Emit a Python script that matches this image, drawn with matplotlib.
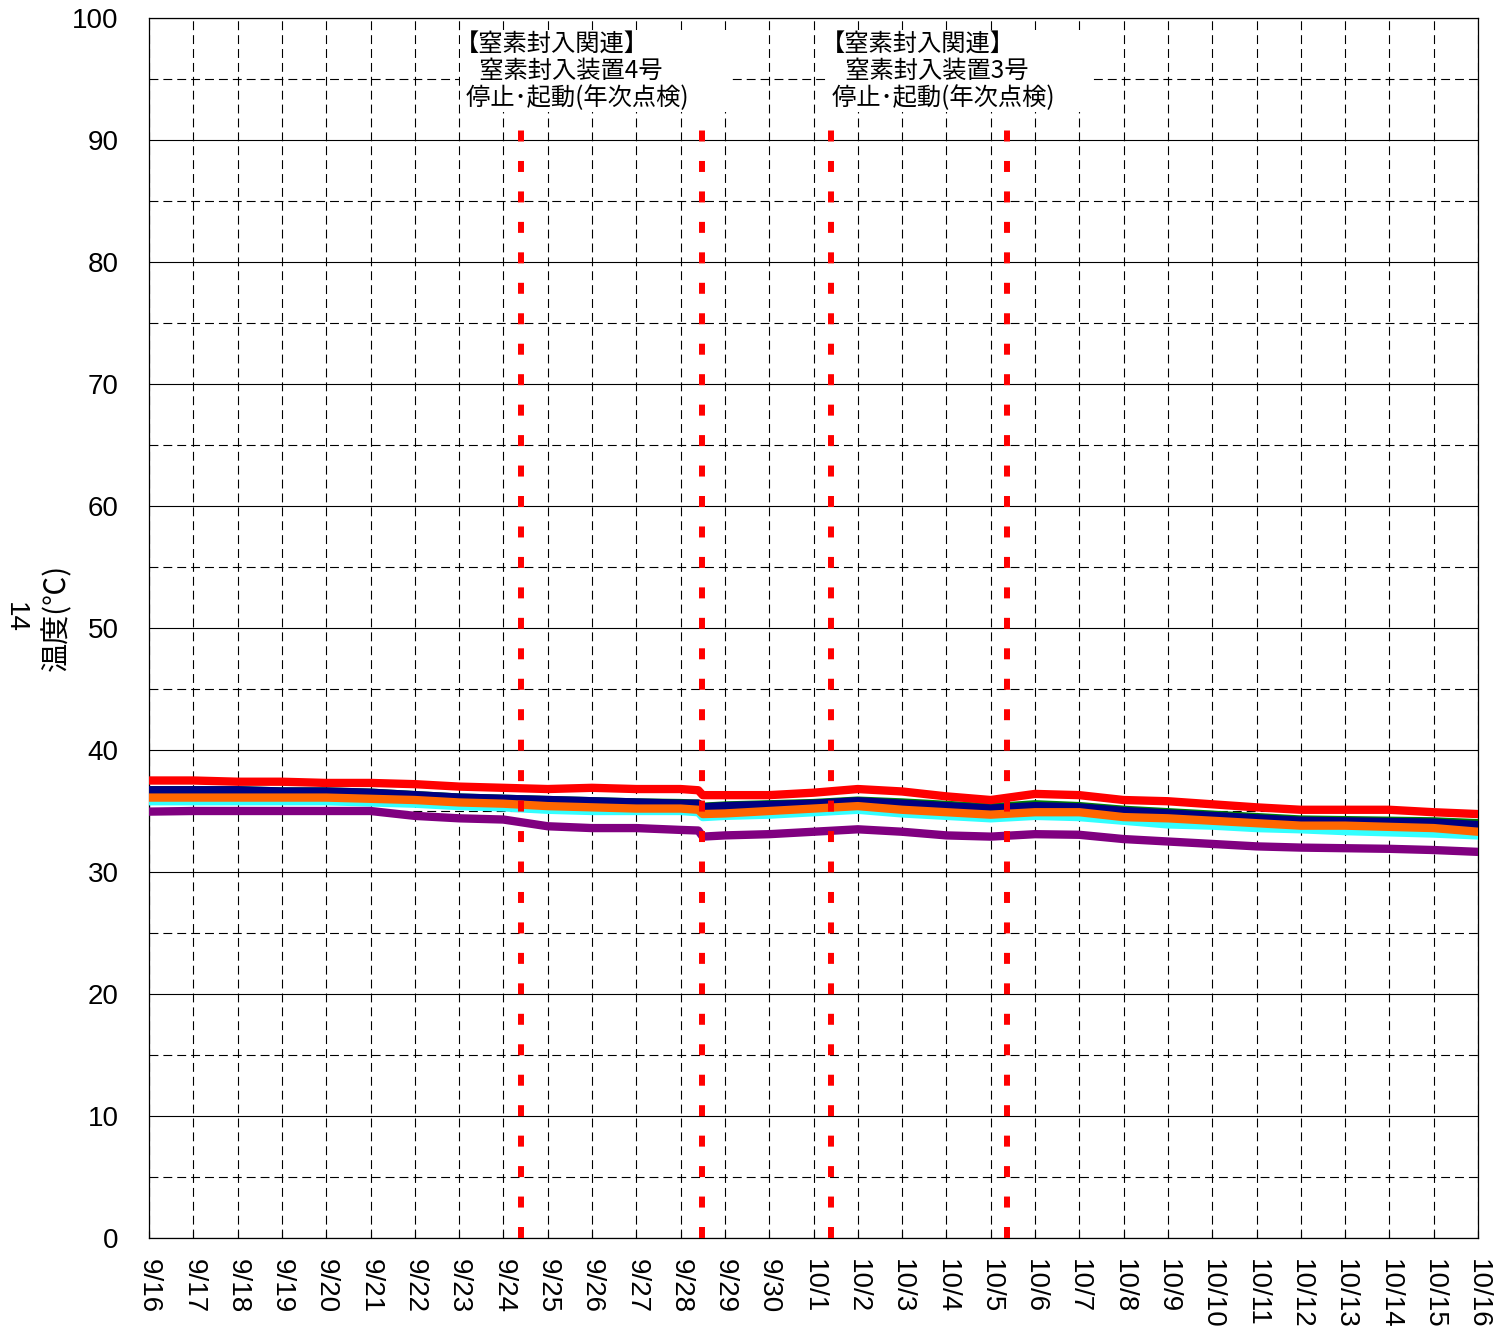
import matplotlib
matplotlib.use("Agg")
import matplotlib.pyplot as plt
import matplotlib.ticker as ticker
from matplotlib.patches import Rectangle

# days since 9/16 (extra points around the 9/28 step)
days = [0, 1, 2, 3, 4, 5, 6, 7, 8, 9, 10, 11, 12, 12.4, 12.5, 13, 14, 15, 16, 17,
        18, 19, 20, 21, 22, 23, 24, 25, 26, 27, 28, 29, 30]

temp_red = [37.5, 37.5, 37.4, 37.4, 37.3, 37.3, 37.2, 37.0, 36.9, 36.8, 36.9, 36.8, 36.8, 36.7,
            36.3, 36.3, 36.3, 36.5, 36.8, 36.6, 36.2, 35.9, 36.4, 36.3, 35.9, 35.8, 35.55,
            35.3, 35.1, 35.1, 35.1, 34.9, 34.75]
temp_green = [36.7, 36.7, 36.7, 36.6, 36.6, 36.5, 36.3, 36.1, 36.0, 35.9, 35.8, 35.7, 35.65, 35.6,
              35.35, 35.45, 35.55, 35.65, 35.85, 35.7, 35.5, 35.3, 35.55, 35.4, 35.1, 34.9, 34.7,
              34.5, 34.3, 34.25, 34.2, 34.15, 34.0]
temp_navy = [36.7, 36.7, 36.7, 36.6, 36.6, 36.5, 36.3, 36.1, 36.0, 35.9, 35.8, 35.7, 35.6, 35.6,
             35.3, 35.4, 35.5, 35.6, 35.8, 35.6, 35.4, 35.2, 35.4, 35.3, 35.0, 34.8, 34.6,
             34.4, 34.2, 34.15, 34.1, 34.05, 33.85]
temp_cyan = [35.8, 35.8, 35.8, 35.8, 35.8, 35.7, 35.6, 35.4, 35.3, 35.1, 35.0, 35.0, 35.0, 34.9,
             34.5, 34.6, 34.7, 34.9, 35.1, 34.8, 34.6, 34.4, 34.6, 34.5, 34.2, 33.9, 33.8,
             33.6, 33.5, 33.35, 33.25, 33.15, 33.0]
temp_orange = [36.1, 36.1, 36.1, 36.1, 36.1, 36.0, 35.9, 35.7, 35.6, 35.4, 35.3, 35.2, 35.2, 35.1,
               34.75, 34.8, 35.0, 35.2, 35.4, 35.1, 34.9, 34.7, 34.9, 34.9, 34.5, 34.4, 34.2,
               34.0, 33.8, 33.8, 33.7, 33.6, 33.3]
temp_purple = [34.95, 35.0, 35.0, 35.0, 35.0, 35.0, 34.6, 34.4, 34.3, 33.75, 33.6, 33.6, 33.45, 33.4,
               32.9, 33.0, 33.1, 33.3, 33.5, 33.3, 33.0, 32.9, 33.1, 33.05, 32.7, 32.5, 32.3,
               32.1, 32.0, 31.95, 31.9, 31.8, 31.65]

series = [
    (temp_green, "#008000"),
    (temp_navy, "#000080"),
    (temp_cyan, "#33FFFF"),
    (temp_orange, "#FF6600"),
    (temp_red, "#FF0000"),
    (temp_purple, "#800080"),
]

date_labels = ["9/16", "9/17", "9/18", "9/19", "9/20", "9/21", "9/22", "9/23", "9/24", "9/25",
               "9/26", "9/27", "9/28", "9/29", "9/30", "10/1", "10/2", "10/3", "10/4", "10/5",
               "10/6", "10/7", "10/8", "10/9", "10/10", "10/11", "10/12", "10/13", "10/14",
               "10/15", "10/16"]

# nitrogen unit stop / start events (days since 9/16)
event_days = [8.40, 12.48, 15.40, 19.37]

notes = [
    ["【窒素封入関連】", "　窒素封入装置4号", "  停止･起動(年次点検)"],
    ["【窒素封入関連】", "　窒素封入装置3号", "  停止･起動(年次点検)"],
]

W, H = 1495, 1337
fig = plt.figure(figsize=(W / 100, H / 100), dpi=100)
ax = fig.add_axes([149 / W, 1 - 1238 / H, (1478 - 149) / W, (1238 - 18) / H])

latin = ["Liberation Sans", "DejaVu Sans"]
cjk = ["Noto Sans CJK JP", "DejaVu Sans"]

for vals, color in series:
    ax.plot(days, vals, color=color, lw=6, solid_joinstyle="round", solid_capstyle="round", zorder=3)

for d in event_days:
    ax.plot([d, d], [0, 90.8], color="#FF0000", lw=4.3, linestyle=(0, (1.84, 3.26)),
            dash_capstyle="butt", zorder=4)

ax.set_xlim(0, 30)
ax.set_ylim(0, 100)
ax.xaxis.set_major_locator(ticker.FixedLocator(range(len(date_labels))))
ax.xaxis.set_major_formatter(ticker.FixedFormatter(date_labels))
ax.yaxis.set_major_locator(ticker.MultipleLocator(10))
ax.yaxis.set_minor_locator(ticker.MultipleLocator(5))

ax.tick_params(axis="x", direction="in", length=5, width=0.8, pad=15, labelsize=20,
               labelrotation=270)
ax.tick_params(axis="y", which="both", length=0, pad=22, labelsize=20)
for lab in ax.get_xticklabels():
    lab.set_fontfamily(latin)
    lab.set_va("top")
for lab in ax.get_yticklabels():
    lab.set_fontfamily(latin)

ax.yaxis.grid(True, which="major", color="black", lw=0.8, ls="-", zorder=1)
ax.yaxis.grid(True, which="minor", color="black", lw=0.8, ls=(0, (8, 4.5)), zorder=1)
ax.xaxis.grid(True, which="major", color="black", lw=0.8, ls=(0, (8, 4.5)), zorder=1)
ax.set_axisbelow(True)
for sp in ax.spines.values():
    sp.set_color("black")
    sp.set_linewidth(0.9)

# note boxes covering the grid
for x0, x1, lines in [(7.02, 13.07, notes[0]), (15.28, 21.29, notes[1])]:
    ax.add_patch(Rectangle((x0, 92.3), x1 - x0, 6.7, facecolor="white", edgecolor="none", zorder=2))
    for k, line in enumerate(lines):
        ax.text(x0 - 0.12, 97.9 - 2.25 * k, line, fontsize=17.5, fontfamily=cjk,
                ha="left", va="center", zorder=5)

fig.text(57 / W, 1 - 617 / H, "温度(℃)", rotation=90, fontsize=21, fontfamily=cjk,
         ha="center", va="center")
fig.text(15 / W, 1 - 617 / H, "14", rotation=270, fontsize=20, fontfamily=latin,
         ha="center", va="center")

fig.savefig("out.png", dpi=100)
